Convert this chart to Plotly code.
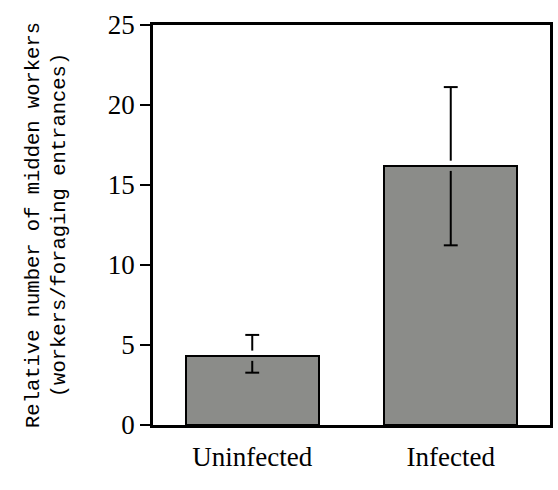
import plotly.graph_objects as go

categories = ["Uninfected", "Infected"]
means = [4.33, 16.2]
err_plus = [1.3, 4.92]
err_minus = [1.06, 4.97]
y_ticks = [0, 5, 10, 15, 20, 25]

bar_color = "#8b8c89"
serif = "Liberation Serif, Times New Roman, serif"
mono = "Liberation Mono, Courier New, monospace"

xs = list(range(len(categories)))

fig = go.Figure()
fig.add_trace(go.Bar(
    x=xs, y=means, width=0.67,
    marker=dict(color=bar_color, line=dict(color="black", width=2)),
    showlegend=False, hoverinfo="skip",
))

# error bars drawn as segments with a small gap around the bar top
gap = 0.32
cap = 0.035
ex, ey = [], []
for x, m, up, dn in zip(xs, means, err_plus, err_minus):
    ex += [x, x, None, x, x, None, x - cap, x + cap, None, x - cap, x + cap, None]
    ey += [m + up, m + gap, None, m - gap, m - dn, None, m + up, m + up, None, m - dn, m - dn, None]
fig.add_trace(go.Scatter(
    x=ex, y=ey, mode="lines", line=dict(color="black", width=2),
    showlegend=False, hoverinfo="skip", cliponaxis=False,
))

fig.update_layout(
    width=558, height=490,
    margin=dict(l=153, r=5, t=25, b=65),
    plot_bgcolor="white", paper_bgcolor="white",
    bargap=0,
)
fig.update_xaxes(
    range=[-0.5, 1.5], tickmode="array", tickvals=xs, ticktext=categories,
    showline=True, linecolor="black", linewidth=2.5, mirror=True,
    showgrid=False, zeroline=False, ticks="",
    tickfont=dict(family=serif, size=27, color="black"),
    ticklabelstandoff=6,
)
fig.update_yaxes(
    range=[0, 25], tickmode="array", tickvals=y_ticks,
    showline=True, linecolor="black", linewidth=2.5, mirror=True,
    showgrid=False, zeroline=False,
    ticks="outside", ticklen=10, tickwidth=2, tickcolor="black",
    tickfont=dict(family=serif, size=27, color="black"),
    title=dict(text="Relative number of midden workers<br>(workers/foraging entrances)",
               font=dict(family=mono, size=20.5, color="black"), standoff=37),
)

fig.write_html("out.html")
